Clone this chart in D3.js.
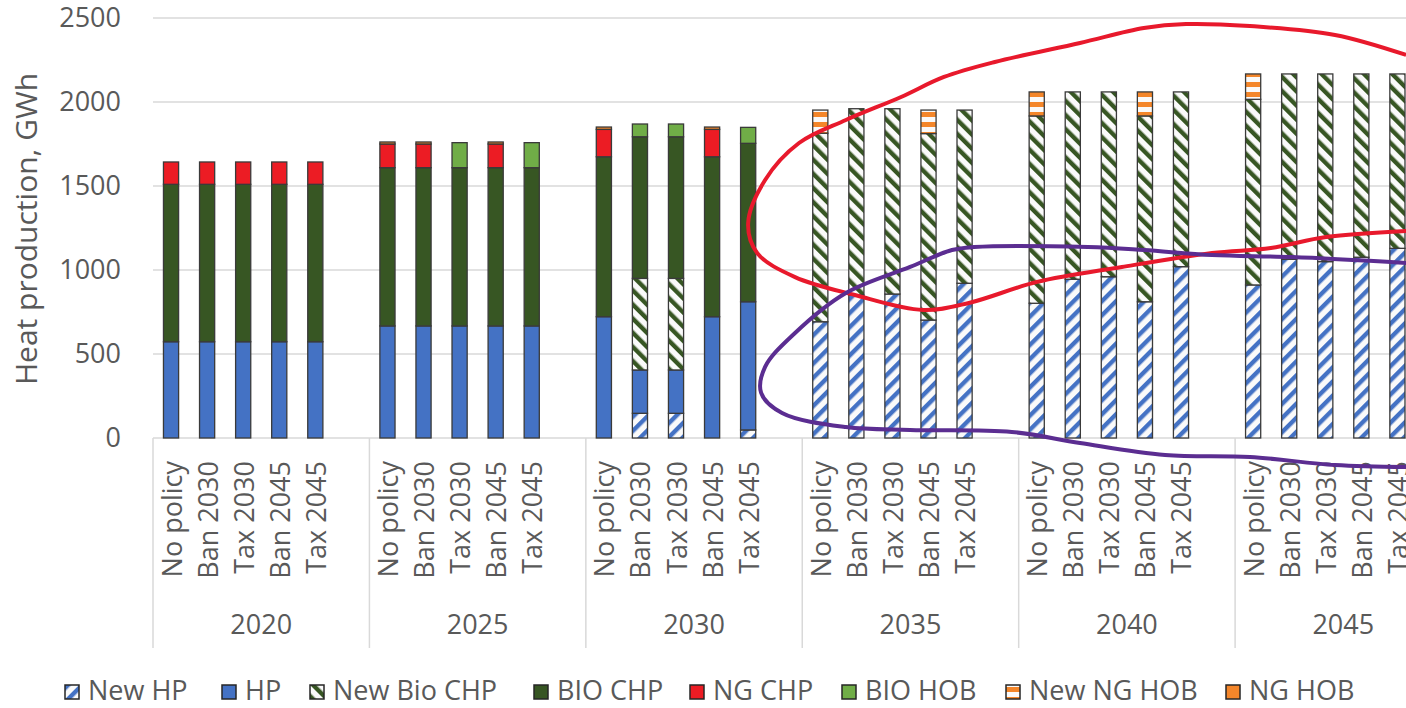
<!DOCTYPE html>
<html>
<head>
<meta charset="utf-8">
<script src="https://cdn.jsdelivr.net/npm/d3@7"></script>
<style>
  body { margin: 0; background: #fff; }
  text { font-family: "Open Sans", sans-serif; fill: #595959; }
</style>
</head>
<body>
<div id="chart"></div>
<script>
// chart size
const width = 1406;
const height = 708;

// categories
const years = ["2020", "2025", "2030", "2035", "2040", "2045"];
const policies = ["No policy", "Ban 2030", "Tax 2030", "Ban 2045", "Tax 2045"];
const yTicks = [0, 500, 1000, 1500, 2000, 2500];

// series values, GWh (5 policies per year, years in order)
const newHP = [0, 0, 0, 0, 0,  0, 0, 0, 0, 0,  0, 147, 147, 0, 48,
  692, 851, 857, 702, 921,  802, 945, 960, 811, 1020,  911, 1064, 1050, 1076, 1129];
const hp = [573, 573, 573, 573, 573,  667, 667, 667, 667, 667,  722, 258, 258, 722, 763,
  0, 0, 0, 0, 0,  0, 0, 0, 0, 0,  0, 0, 0, 0, 0];
const newBioCHP = [0, 0, 0, 0, 0,  0, 0, 0, 0, 0,  0, 545, 545, 0, 0,
  1122, 1109, 1103, 1110, 1031,  1115, 1115, 1100, 1106, 1040,  1105, 1103, 1117, 1091, 1038];
const bioCHP = [937, 937, 937, 937, 937,  942, 942, 942, 942, 942,  952, 843, 843, 952, 943,
  0, 0, 0, 0, 0,  0, 0, 0, 0, 0,  0, 0, 0, 0, 0];
const ngCHP = [133, 133, 133, 133, 133,  141, 141, 0, 141, 0,  163, 0, 0, 163, 0,
  0, 0, 0, 0, 0,  0, 0, 0, 0, 0,  0, 0, 0, 0, 0];
const bioHOB = [0, 0, 0, 0, 0,  0, 0, 149, 0, 149,  0, 76, 76, 0, 95,
  0, 0, 0, 0, 0,  0, 0, 0, 0, 0,  0, 0, 0, 0, 0];
const newNGHOB = [0, 0, 0, 0, 0,  0, 0, 0, 0, 0,  0, 0, 0, 0, 0,
  138, 0, 0, 140, 0,  143, 0, 0, 143, 0,  151, 0, 0, 0, 0];
const ngHOB = [0, 0, 0, 0, 0,  12, 12, 0, 12, 0,  14, 0, 0, 14, 0,
  0, 0, 0, 0, 0,  0, 0, 0, 0, 0,  0, 0, 0, 0, 0];

const seriesNames = ["New HP", "HP", "New Bio CHP", "BIO CHP", "NG CHP", "BIO HOB", "New NG HOB", "NG HOB"];
const seriesValues = [newHP, hp, newBioCHP, bioCHP, ngCHP, bioHOB, newNGHOB, ngHOB];

// hand drawn annotation loops: [slot position, GWh]
const redLoop = [[34.74, 2280], [32.77, 2399], [30.41, 2452], [28.64, 2464], [27.47, 2440],
  [25.7, 2351], [23.34, 2238], [21.93, 2149], [20.74, 2030], [19.21, 1893], [17.91, 1756],
  [16.97, 1536], [16.5, 1280], [16.75, 1101], [17.8, 958], [19.46, 851], [21.35, 762],
  [22.62, 804], [24.51, 929], [26.86, 1018], [29.36, 1101], [30.99, 1131], [32.52, 1196], [34.74, 1232]];
const purpleLoop = [[34.74, 1042], [31.58, 1077], [29.36, 1089], [27.47, 1119], [25.92, 1137],
  [22.76, 1137], [22.15, 1119], [20.99, 1018], [19.21, 863], [17.8, 625], [16.97, 423],
  [16.86, 268], [17.44, 149], [19.21, 65], [20.99, 48], [23.81, 36], [25.7, -30],
  [28.06, -101], [30.41, -113], [32.77, -161], [34.74, -173]];

// colours and fills
const fills = {
  "New HP": "url(#pNewHP)",
  "HP": "#4472c4",
  "New Bio CHP": "url(#pNewBio)",
  "BIO CHP": "#375623",
  "NG CHP": "#ec1c24",
  "BIO HOB": "#70ad47",
  "New NG HOB": "url(#pNewNG)",
  "NG HOB": "#f4862a"
};

const svg = d3.select("#chart").append("svg")
  .attr("width", width)
  .attr("height", height);

// patterns
const defs = svg.append("defs");
function stripes(id, color, angle) {
  const p = defs.append("pattern")
    .attr("id", id)
    .attr("patternUnits", "userSpaceOnUse")
    .attr("width", 10).attr("height", 10)
    .attr("patternTransform", "rotate(" + angle + ")");
  p.append("rect").attr("width", 10).attr("height", 10).attr("fill", "#fafafa");
  p.append("rect").attr("width", 4.4).attr("height", 10).attr("fill", color);
}
stripes("pNewHP", "#4472c4", 45);
stripes("pNewBio", "#375623", -45);
const pNG = defs.append("pattern")
  .attr("id", "pNewNG")
  .attr("patternUnits", "userSpaceOnUse")
  .attr("width", 10).attr("height", 10);
pNG.append("rect").attr("width", 10).attr("height", 10).attr("fill", "#fafafa");
pNG.append("rect").attr("y", 2).attr("width", 10).attr("height", 5).attr("fill", "#f4862a");

// slots: five policies plus one empty slot per year
const slots = [];
years.forEach(function(yr) {
  policies.forEach(function(p) { slots.push(yr + "|" + p); });
  slots.push(yr + "|");
});

const left = 153;
const step = 36.07;
const x = d3.scaleBand()
  .domain(slots)
  .range([left, left + slots.length * step])
  .paddingInner(0.58)
  .paddingOuter(0.29);
const xPos = d3.scaleLinear().domain([0, slots.length]).range([left, left + slots.length * step]);
const y = d3.scaleLinear().domain([0, 2500]).range([438, 18]);

// gridlines
svg.append("g")
  .selectAll("line")
  .data(yTicks)
  .enter()
  .append("line")
  .attr("x1", left).attr("x2", width)
  .attr("y1", function(d) { return y(d); })
  .attr("y2", function(d) { return y(d); })
  .attr("stroke", "#d9d9d9")
  .attr("stroke-width", 1.5);

// y tick labels
svg.append("g")
  .selectAll("text")
  .data(yTicks)
  .enter()
  .append("text")
  .attr("x", 121)
  .attr("y", function(d) { return y(d); })
  .attr("dy", "0.35em")
  .attr("text-anchor", "end")
  .style("font-size", "27px")
  .text(function(d) { return d; });

// y title
svg.append("text")
  .attr("transform", "translate(37,229) rotate(-90)")
  .attr("text-anchor", "middle")
  .style("font-size", "30px")
  .text("Heat production, GWh");

// table of bars built from the series arrays
const rows = [];
years.forEach(function(yr, yi) {
  policies.forEach(function(p, pi) {
    const row = { key: yr + "|" + p };
    seriesNames.forEach(function(s, si) { row[s] = seriesValues[si][yi * policies.length + pi]; });
    rows.push(row);
  });
});
const stacked = d3.stack().keys(seriesNames)(rows);

svg.append("g")
  .selectAll("g")
  .data(stacked)
  .enter()
  .append("g")
  .attr("fill", function(d) { return fills[d.key]; })
  .selectAll("rect")
  .data(function(d) { return d.filter(function(v) { return v[1] - v[0] > 0; }); })
  .enter()
  .append("rect")
  .attr("x", function(d) { return x(d.data.key); })
  .attr("width", x.bandwidth())
  .attr("y", function(d) { return y(d[1]); })
  .attr("height", function(d) { return y(d[0]) - y(d[1]); })
  .attr("stroke", "#3a3a3a")
  .attr("stroke-width", 1.3);

// category axis: group separators
svg.append("g")
  .selectAll("line")
  .data(d3.range(years.length + 1))
  .enter()
  .append("line")
  .attr("x1", function(i) { return xPos(i * 6); })
  .attr("x2", function(i) { return xPos(i * 6); })
  .attr("y1", 438).attr("y2", 648)
  .attr("stroke", "#d9d9d9")
  .attr("stroke-width", 1.5);

// policy labels
svg.append("g")
  .selectAll("text")
  .data(rows)
  .enter()
  .append("text")
  .attr("transform", function(d) {
    return "translate(" + (x(d.key) + x.bandwidth() / 2 + 10.5) + ",461) rotate(-90)";
  })
  .attr("text-anchor", "end")
  .style("font-size", "27px")
  .text(function(d) { return d.key.split("|")[1]; });

// year labels
svg.append("g")
  .selectAll("text")
  .data(years)
  .enter()
  .append("text")
  .attr("x", function(d, i) { return xPos(i * 6 + 3); })
  .attr("y", 634)
  .attr("text-anchor", "middle")
  .style("font-size", "27px")
  .text(function(d) { return d; });

// hand drawn annotation loops
const loop = d3.line()
  .x(function(d) { return xPos(d[0]); })
  .y(function(d) { return y(d[1]); })
  .curve(d3.curveCatmullRom);
svg.append("path")
  .attr("d", loop(redLoop))
  .attr("fill", "none")
  .attr("stroke", "#e8192c")
  .attr("stroke-width", 4);
svg.append("path")
  .attr("d", loop(purpleLoop))
  .attr("fill", "none")
  .attr("stroke", "#5b2d91")
  .attr("stroke-width", 4);

// legend
const legendX = [65, 222, 310, 534, 690, 842, 1006, 1226];
const legend = svg.selectAll(".legend")
  .data(seriesNames)
  .enter()
  .append("g")
  .attr("class", "legend")
  .attr("transform", function(d, i) { return "translate(" + legendX[i] + ",685)"; });

legend.append("rect")
  .attr("width", 14)
  .attr("height", 14)
  .attr("fill", function(d) { return fills[d]; })
  .attr("stroke", "#262626")
  .attr("stroke-width", 1.5);

legend.append("text")
  .attr("x", 23)
  .attr("y", 15)
  .style("font-size", "27px")
  .text(function(d) { return d; });
</script>
</body>
</html>
